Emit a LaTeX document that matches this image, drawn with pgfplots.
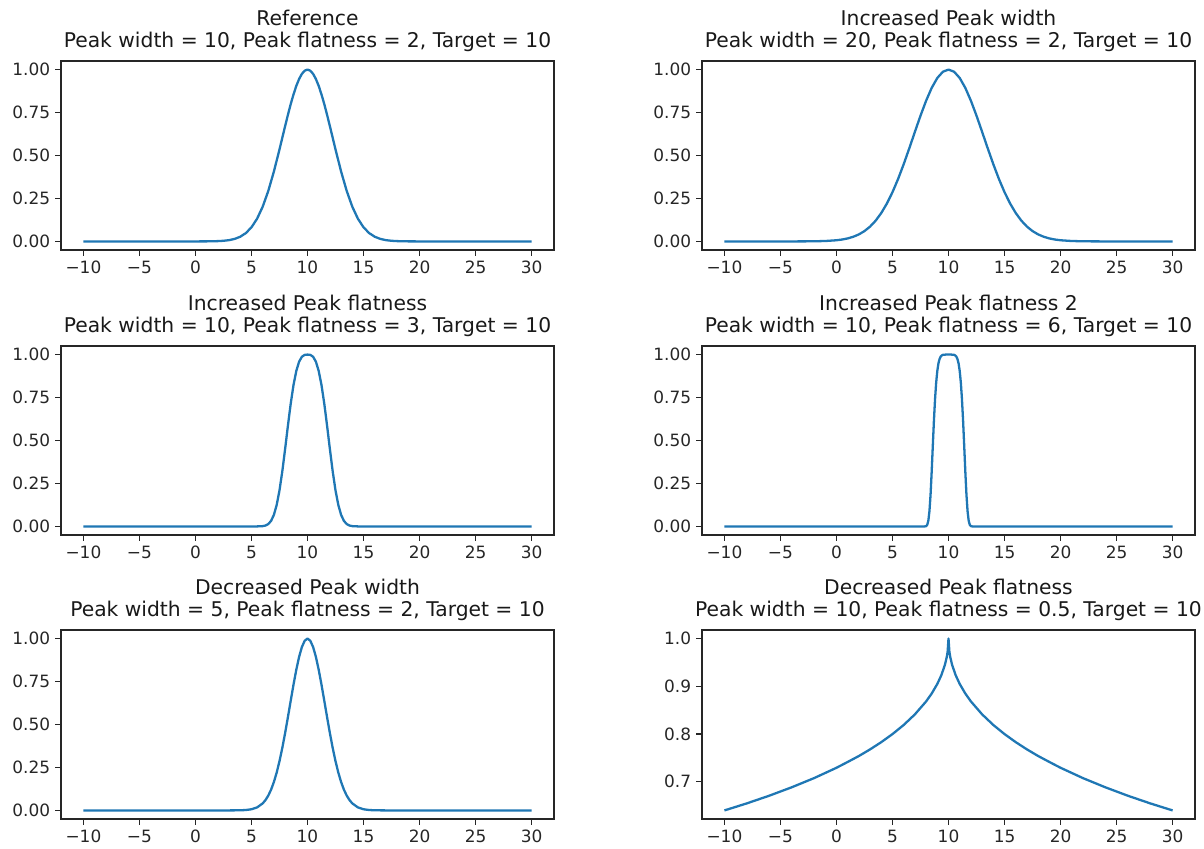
\documentclass[border=0pt]{standalone}
\usepackage{fontspec}
\setmainfont{DejaVu Sans}
\usepackage{pgfplots}
\pgfplotsset{compat=1.18}

\definecolor{mplblue}{HTML}{1F77B4}

\pgfplotsset{
  peak/.style={
    scale only axis, width=354.96pt, height=136.08pt,
    xmin=-12, xmax=32,
    xtick={-10,-5,0,5,10,15,20,25,30},
    xticklabels={−10,−5,0,5,10,15,20,25,30},
    tick align=outside, xtick pos=bottom, ytick pos=left,
    major tick length=4.3pt,
    every tick/.style={black!85, line width=0.95pt},
    axis line style={black!85, line width=0.95pt},
    ticklabel style={font=\fontsize{12.2}{14}\selectfont, color=black!85},
    title style={font=\fontsize{14.6}{16}\selectfont, color=black!90, align=center, at={(0.5,1)}, anchor=south, yshift=-3pt},
    anchor=north west,
  },
  unit/.style={ymin=-0.05, ymax=1.05,
    ytick={0,0.25,0.5,0.75,1}, yticklabels={0.00,0.25,0.50,0.75,1.00}},
  curve/.style={mplblue, line width=1.65pt, no markers, line join=round},
}

\begin{document}
\begin{tikzpicture}
\path[use as bounding box] (0,0) rectangle (866.88pt,-610.56pt);

% row 1
\begin{axis}[peak, unit, at={(43.92pt,-43.92pt)},
  title={Reference\\Peak width = 10, Peak flatness = 2, Target = 10}]
\addplot[curve] coordinates {
(-10,0) (0,0) (1,0.0003) (2,0.0017) (2.5,0.0036) (3,0.0074) (3.5,0.0146) (4,0.0273) (4.5,0.0486)
(5,0.0821) (5.5,0.1320) (6,0.2019) (6.5,0.2938) (7,0.4066) (7.5,0.5353) (8,0.6703) (8.25,0.7362)
(8.5,0.7985) (8.75,0.8553) (9,0.9048) (9.25,0.9453) (9.5,0.9753) (9.75,0.9938) (10,1)
(10.25,0.9938) (10.5,0.9753) (10.75,0.9453) (11,0.9048) (11.25,0.8553) (11.5,0.7985) (11.75,0.7362)
(12,0.6703) (12.5,0.5353) (13,0.4066) (13.5,0.2938) (14,0.2019) (14.5,0.1320) (15,0.0821)
(15.5,0.0486) (16,0.0273) (16.5,0.0146) (17,0.0074) (17.5,0.0036) (18,0.0017) (19,0.0003)
(20,0) (30,0)
};
\end{axis}

\begin{axis}[peak, unit, at={(505.44pt,-43.92pt)},
  title={Increased Peak width\\Peak width = 20, Peak flatness = 2, Target = 10}]
\addplot[curve] coordinates {
(-10,0) (-4,0) (-3,0.0002) (-2,0.0007) (-1,0.0024) (0,0.0067) (0.5,0.0110) (1,0.0174) (1.5,0.0270)
(2,0.0408) (2.5,0.0601) (3,0.0863) (3.5,0.1209) (4,0.1653) (4.5,0.2204) (5,0.2865) (5.5,0.3633)
(6,0.4493) (6.5,0.5420) (7,0.6376) (7.5,0.7316) (8,0.8187) (8.5,0.8936) (9,0.9512) (9.5,0.9876)
(10,1) (10.5,0.9876) (11,0.9512) (11.5,0.8936) (12,0.8187) (12.5,0.7316) (13,0.6376) (13.5,0.5420)
(14,0.4493) (14.5,0.3633) (15,0.2865) (15.5,0.2204) (16,0.1653) (16.5,0.1209) (17,0.0863)
(17.5,0.0601) (18,0.0408) (18.5,0.0270) (19,0.0174) (19.5,0.0110) (20,0.0067) (21,0.0024)
(22,0.0007) (23,0.0002) (24,0) (30,0)
};
\end{axis}

% row 2
\begin{axis}[peak, unit, at={(43.92pt,-249.12pt)},
  title={Increased Peak flatness\\Peak width = 10, Peak flatness = 3, Target = 10}]
\addplot[curve] coordinates {
(-10,0) (5,0) (5.5,0.0001) (6,0.0017) (6.25,0.0051) (6.5,0.0137) (6.75,0.0323) (7,0.0672)
(7.25,0.1250) (7.5,0.2096) (7.75,0.3201) (8,0.4493) (8.25,0.5851) (8.5,0.7136) (8.75,0.8226)
(9,0.9048) (9.25,0.9587) (9.5,0.9876) (9.75,0.9984) (10,1) (10.25,0.9984) (10.5,0.9876)
(10.75,0.9587) (11,0.9048) (11.25,0.8226) (11.5,0.7136) (11.75,0.5851) (12,0.4493) (12.25,0.3201)
(12.5,0.2096) (12.75,0.1250) (13,0.0672) (13.25,0.0323) (13.5,0.0137) (13.75,0.0051) (14,0.0017)
(14.5,0.0001) (15,0) (30,0)
};
\end{axis}

\begin{axis}[peak, unit, at={(505.44pt,-249.12pt)},
  title={Increased Peak flatness 2\\Peak width = 10, Peak flatness = 6, Target = 10}]
\addplot[curve] coordinates {
(-10,0) (7.8,0) (7.9,0.0002) (8,0.0017) (8.1,0.0091) (8.2,0.0333) (8.3,0.0895) (8.4,0.1868)
(8.5,0.3201) (8.6,0.4710) (8.7,0.6171) (8.8,0.7419) (8.9,0.8376) (9,0.9048) (9.1,0.9482)
(9.2,0.9741) (9.3,0.9883) (9.4,0.9953) (9.5,0.9984) (9.75,1.0000) (10,1) (10.25,1.0000)
(10.5,0.9984) (10.6,0.9953) (10.7,0.9883) (10.8,0.9741) (10.9,0.9482) (11,0.9048) (11.1,0.8376)
(11.2,0.7419) (11.3,0.6171) (11.4,0.4710) (11.5,0.3201) (11.6,0.1868) (11.7,0.0895) (11.8,0.0333)
(11.9,0.0091) (12,0.0017) (12.1,0.0002) (12.2,0) (30,0)
};
\end{axis}

% row 3
\begin{axis}[peak, unit, at={(43.92pt,-453.6pt)},
  title={Decreased Peak width\\Peak width = 5, Peak flatness = 2, Target = 10}]
\addplot[curve] coordinates {
(-10,0) (2,0) (3,0.0001) (4,0.0007) (4.5,0.0024) (5,0.0067) (5.5,0.0174) (6,0.0408) (6.25,0.0601)
(6.5,0.0863) (6.75,0.1209) (7,0.1653) (7.25,0.2204) (7.5,0.2865) (7.75,0.3633) (8,0.4493)
(8.25,0.5420) (8.5,0.6376) (8.75,0.7316) (9,0.8187) (9.25,0.8936) (9.5,0.9512) (9.75,0.9876)
(10,1) (10.25,0.9876) (10.5,0.9512) (10.75,0.8936) (11,0.8187) (11.25,0.7316) (11.5,0.6376)
(11.75,0.5420) (12,0.4493) (12.25,0.3633) (12.5,0.2865) (12.75,0.2204) (13,0.1653) (13.25,0.1209)
(13.5,0.0863) (13.75,0.0601) (14,0.0408) (14.5,0.0174) (15,0.0067) (15.5,0.0024) (16,0.0007)
(17,0.0001) (18,0) (30,0)
};
\end{axis}

\begin{axis}[peak, at={(505.44pt,-453.6pt)},
  ymin=0.6214, ymax=1.018,
  ytick={0.7,0.8,0.9,1.0}, yticklabels={0.7,0.8,0.9,1.0},
  title={Decreased Peak flatness\\Peak width = 10, Peak flatness = 0.5, Target = 10}]
\addplot[curve] coordinates {
(-10,0.6394) (-8,0.6542) (-6,0.6703) (-4,0.6879) (-2,0.7072) (0,0.7289) (1,0.7411) (2,0.7536)
(3,0.7675) (4,0.7827) (5,0.7996) (6,0.8187) (7,0.8410) (8,0.8681) (8.5,0.8847) (9,0.9048)
(9.36,0.9231) (9.68,0.9450) (9.84,0.9608) (9.92,0.9721) (10,1)
(10.08,0.9721) (10.16,0.9608) (10.32,0.9450) (10.64,0.9231) (11,0.9048) (11.5,0.8847) (12,0.8681)
(13,0.8410) (14,0.8187) (15,0.7996) (16,0.7827) (17,0.7675) (18,0.7536) (19,0.7411) (20,0.7289)
(22,0.7072) (24,0.6879) (26,0.6703) (28,0.6542) (30,0.6394)
};
\end{axis}
\end{tikzpicture}
\end{document}
